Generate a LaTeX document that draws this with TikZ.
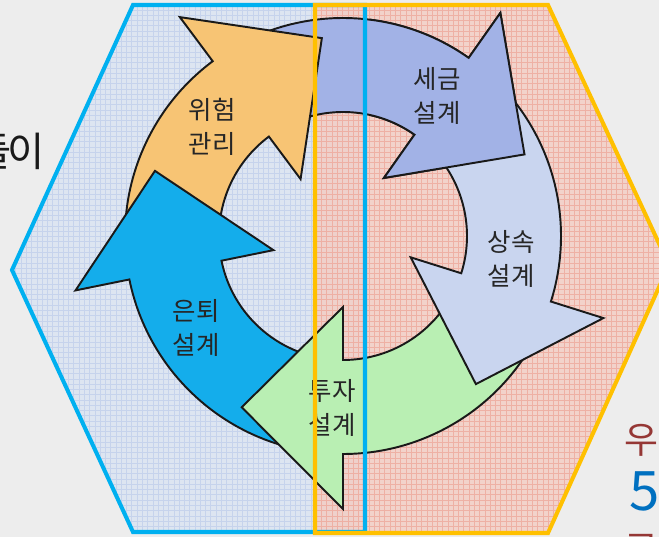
\documentclass[tikz,border=0pt]{standalone}
\usepackage{fontspec}
\newfontfamily\kr{Noto Sans CJK KR}
\usepackage{tikz}
\usetikzlibrary{patterns}

\definecolor{sfondo}{HTML}{EDEDED}
\definecolor{azzurro}{HTML}{00B0F0}
\definecolor{giallo}{HTML}{FFC000}
\definecolor{grigioblu}{HTML}{DDE5F1}
\definecolor{rosa}{HTML}{F3CEC5}
\definecolor{retinoblu}{HTML}{C6D3EC}
\definecolor{retinorosa}{HTML}{EEB0A4}
\definecolor{arancio}{HTML}{F7C474}
\definecolor{viola}{HTML}{A2B2E6}
\definecolor{lilla}{HTML}{C9D5EF}
\definecolor{verde}{HTML}{B9EFB3}
\definecolor{celeste}{HTML}{14ADEB}
\definecolor{rossoscuro}{HTML}{953735}
\definecolor{blu}{HTML}{0070C0}

\begin{document}
\begin{tikzpicture}[x=0.02cm, y=0.02cm,
	esagono/.style={line width=2.3pt, line join=miter},
	freccia/.style={draw=black!90, line width=1.1pt, line join=miter},
	retino/.style={pattern=grid},
	etichetta/.style={font=\kr\fontsize{14.5}{19.5}\selectfont, align=center, text=black!85, inner sep=0pt},
	bordo/.style={font=\kr\fontsize{21}{25}\selectfont, inner sep=0pt}]

	\useasboundingbox (0,0) rectangle (659,537);
	\clip (0,0) rectangle (659,537);
	\fill[sfondo] (0,0) rectangle (659,537);

	% esagoni
	\fill[grigioblu] (133,532) -- (365,532) -- (365,5) -- (133,5) -- (12,267) -- cycle;
	\fill[rosa, opacity=0.85] (315,532) -- (548,532) -- (669,272) -- (548,4) -- (315,4) -- cycle;

	% retino
	\fill[retino, pattern color=retinoblu] (133,532) -- (315,532) -- (315,5) -- (133,5) -- (12,267) -- cycle;
	\fill[retino, pattern color=retinorosa] (315,532) -- (548,532) -- (669,272) -- (548,4) -- (315,4) -- cycle;

	% frecce del ciclo
	\begin{scope}[shift={(343,301)}]
		\draw[freccia, fill=viola] (121.7:124) -- (121.7:218) arc[start angle=121.7, end angle=54.8, radius=218]
			-- (54.8:273) -- (24.2:199) -- (54.8:71) -- (54.8:124) arc[start angle=54.8, end angle=121.7, radius=124] -- cycle;
		\draw[freccia, fill=arancio] (186.5:124) -- (186.5:218) arc[start angle=186.5, end angle=126.7, radius=218]
			-- (126.7:273) -- (96.1:199) -- (126.7:71) -- (126.7:124) arc[start angle=126.7, end angle=186.5, radius=124] -- cycle;
		\draw[freccia, fill=celeste] (265:124) -- (265:218) arc[start angle=265, end angle=191.5, radius=218]
			-- (191.5:273) -- (160.9:199) -- (191.5:71) -- (191.5:124) arc[start angle=191.5, end angle=265, radius=124] -- cycle;
		\draw[freccia, fill=verde] (337.5:124) -- (337.5:218) arc[start angle=337.5, end angle=270, radius=218]
			-- (270:273) -- (239.4:199) -- (270:71) -- (270:124) arc[start angle=270, end angle=337.5, radius=124] -- cycle;
		\draw[freccia, fill=lilla] (49.8:124) -- (49.8:218) arc[start angle=49.8, end angle=-17.5, radius=218]
			-- (-17.5:273) -- (-48.1:199) -- (-17.5:71) -- (-17.5:124) arc[start angle=-17.5, end angle=49.8, radius=124] -- cycle;
	\end{scope}

	% punta viola sopra la coda lilla
	\begin{scope}
		\clip (370,292) rectangle (640,537);
		\begin{scope}[shift={(343,301)}]
			\draw[freccia, fill=viola] (121.7:124) -- (121.7:218) arc[start angle=121.7, end angle=54.8, radius=218]
				-- (54.8:273) -- (24.2:199) -- (54.8:71) -- (54.8:124) arc[start angle=54.8, end angle=121.7, radius=124] -- cycle;
		\end{scope}
	\end{scope}

	% etichette
	\node[etichetta] (rischio) at (212,410) {위험\\관리};
	\node[etichetta] (tasse) at (437,441) {세금\\설계};
	\node[etichetta] (eredita) at (511,278) {상속\\설계};
	\node[etichetta] (pensione) at (196,209) {은퇴\\설계};
	\node[etichetta] (investimento) at (332,129) {투자\\설계};

	% bordi degli esagoni
	\draw[esagono, azzurro] (133,532) -- (365,532) -- (365,5) -- (133,5) -- (12,267) -- cycle;
	\draw[esagono, giallo] (315,532) -- (548,532) -- (669,272) -- (548,4) -- (315,4) -- cycle;

	% testi tagliati ai lati
	\node[bordo, text=black!90, font=\kr\fontsize{23}{27}\selectfont] (sinistra) at (9.5,386) {들\kern-2pt 이};
	\node[bordo, anchor=west, text=rossoscuro] (destra1) at (624,97) {우};
	\node[bordo, anchor=west, text=blu, font=\kr\fontsize{31}{35}\selectfont] (destra2) at (629,46) {5};
	\node[bordo, anchor=west, text=rossoscuro] (destra3) at (624,-11) {고};
\end{tikzpicture}
\end{document}
